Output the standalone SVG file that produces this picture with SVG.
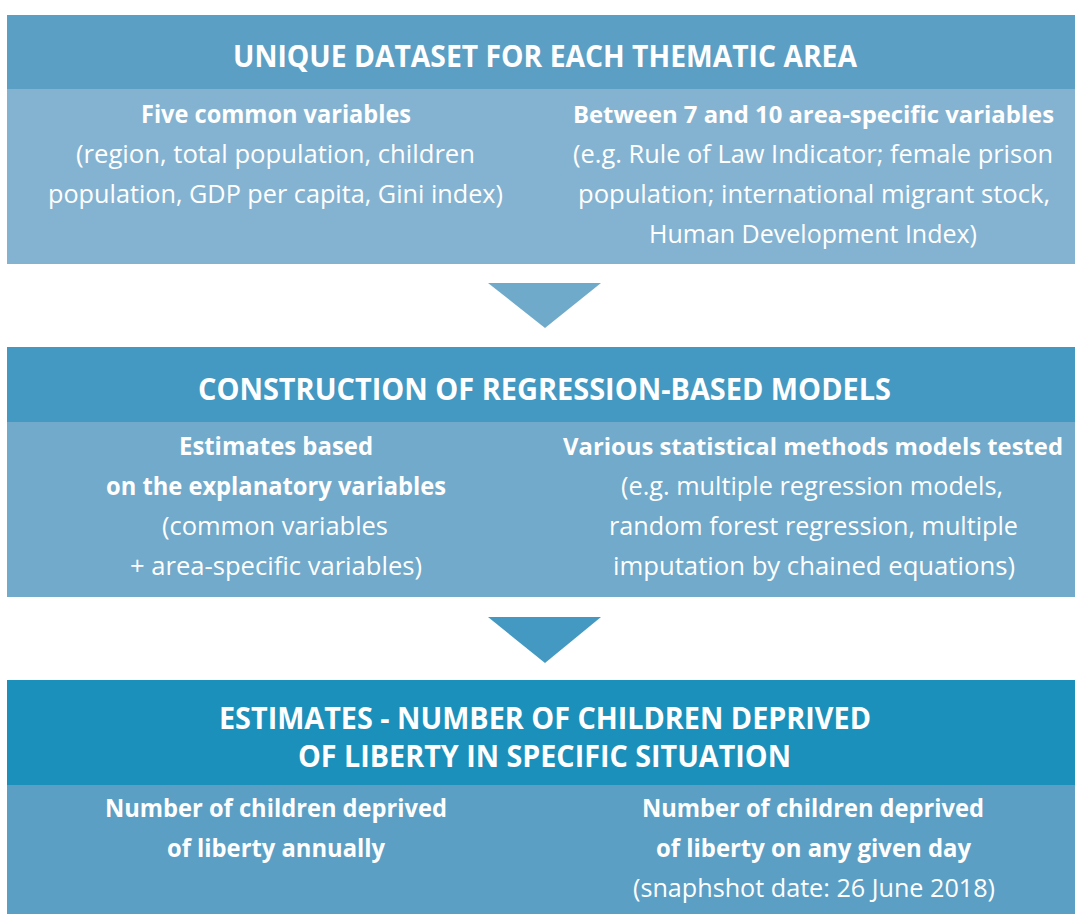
<svg xmlns="http://www.w3.org/2000/svg" width="1075" height="914" viewBox="0 0 1075 914">
<style>
text{font-family:"Open Sans","Noto Sans","Liberation Sans",sans-serif;fill:#ffffff;text-anchor:middle}
.t{font-size:31px;font-weight:700}
.b{font-size:25px;font-weight:700}
.bn{font-size:23px;font-weight:700}
.r{font-size:25px;font-weight:400}
</style>
<rect width="1075" height="914" fill="#ffffff"/>
<g id="node-dataset">
<rect x="7" y="15" width="1068" height="75" fill="#5b9fc5"/>
<rect x="7" y="89" width="1068" height="175" fill="#84b3d2"/>
<text class="t" x="545" y="67" textLength="624" lengthAdjust="spacingAndGlyphs">UNIQUE DATASET FOR EACH THEMATIC AREA</text>
<text class="b" x="276" y="123" textLength="270" lengthAdjust="spacingAndGlyphs">Five common variables</text>
<text class="r" x="275.5" y="163" textLength="399" lengthAdjust="spacingAndGlyphs">(region, total population, children</text>
<text class="r" x="275.5" y="203" textLength="455" lengthAdjust="spacingAndGlyphs">population, GDP per capita, Gini index)</text>
<text class="bn" x="813.5" y="123" textLength="481" lengthAdjust="spacingAndGlyphs">Between 7 and 10 area-specific variables</text>
<text class="r" x="813" y="163" textLength="480" lengthAdjust="spacingAndGlyphs">(e.g. Rule of Law Indicator; female prison</text>
<text class="r" x="814" y="203" textLength="472" lengthAdjust="spacingAndGlyphs">population; international migrant stock,</text>
<text class="r" x="813" y="243" textLength="328" lengthAdjust="spacingAndGlyphs">Human Development Index)</text>
</g>
<g id="node-models">
<rect x="7" y="347" width="1068" height="76" fill="#4399c2"/>
<rect x="7" y="422" width="1068" height="175" fill="#71aacb"/>
<text class="t" x="544.5" y="400" textLength="693" lengthAdjust="spacingAndGlyphs">CONSTRUCTION OF REGRESSION-BASED MODELS</text>
<text class="b" x="276" y="455" textLength="194" lengthAdjust="spacingAndGlyphs">Estimates based</text>
<text class="b" x="276" y="495" textLength="340" lengthAdjust="spacingAndGlyphs">on the explanatory variables</text>
<text class="r" x="275" y="535" textLength="226" lengthAdjust="spacingAndGlyphs">(common variables</text>
<text class="r" x="276" y="575" textLength="292" lengthAdjust="spacingAndGlyphs">+ area-specific variables)</text>
<text class="bn" x="813" y="455" textLength="500" lengthAdjust="spacingAndGlyphs">Various statistical methods models tested</text>
<text class="r" x="812" y="495" textLength="382" lengthAdjust="spacingAndGlyphs">(e.g. multiple regression models,</text>
<text class="r" x="813.5" y="535" textLength="409" lengthAdjust="spacingAndGlyphs">random forest regression, multiple</text>
<text class="r" x="814" y="575" textLength="402" lengthAdjust="spacingAndGlyphs">imputation by chained equations)</text>
</g>
<g id="node-estimates">
<rect x="7" y="680" width="1068" height="106" fill="#1b90ba"/>
<rect x="7" y="785" width="1068" height="129" fill="#5b9fc5"/>
<text class="t" x="545" y="729" textLength="652" lengthAdjust="spacingAndGlyphs">ESTIMATES - NUMBER OF CHILDREN DEPRIVED</text>
<text class="t" x="544.5" y="767" textLength="493" lengthAdjust="spacingAndGlyphs">OF LIBERTY IN SPECIFIC SITUATION</text>
<text class="b" x="276" y="817" textLength="342" lengthAdjust="spacingAndGlyphs">Number of children deprived</text>
<text class="b" x="276" y="857" textLength="218" lengthAdjust="spacingAndGlyphs">of liberty annually</text>
<text class="b" x="813" y="817" textLength="342" lengthAdjust="spacingAndGlyphs">Number of children deprived</text>
<text class="b" x="813.5" y="857" textLength="315" lengthAdjust="spacingAndGlyphs">of liberty on any given day</text>
<text class="r" x="814" y="897" textLength="362" lengthAdjust="spacingAndGlyphs">(snaphshot date: 26 June 2018)</text>
</g>
<g id="connectors">
<polygon points="488,283 601,283 545,328" fill="#70aacb"/>
<polygon points="488,617 601,617 545,663" fill="#4399c2"/>
</g>
</svg>
